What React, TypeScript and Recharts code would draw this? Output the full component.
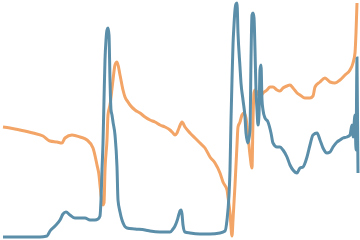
import { LineChart, Line, XAxis, YAxis } from "recharts";

// [position, level] pairs
const blueSeries: [number, number][] = [
  [3, 3], [10, 3], [20, 3], [30, 3], [40, 3], [47, 4], [50, 9], [55, 14], [60, 20], [63, 26],
  [66, 28], [70, 25], [75, 22], [80, 22], [85, 22], [90, 20], [95, 20], [98, 21], [100, 24],
  [101, 40], [102, 70], [103, 97], [104, 140], [105, 180], [106, 200], [107, 210], [108, 212],
  [109, 205], [110, 160], [111, 130], [112, 125], [113, 118], [115, 105], [117, 73], [118, 40],
  [120, 28], [122, 20], [127, 12], [135, 11], [145, 10], [150, 9], [160, 8], [170, 8], [173, 11],
  [175, 14], [177, 19], [179, 26], [180, 29], [181, 30], [182, 26], [183, 15], [185, 8], [190, 7],
  [200, 6], [210, 6], [220, 7], [225, 9], [227, 20], [229, 45], [230, 70], [231, 120], [232, 160],
  [233, 195], [234, 215], [235, 230], [236, 236], [237, 237], [238, 207], [240, 173], [241, 157],
  [243, 140], [245, 123], [246, 107], [248, 97], [250, 110], [251, 180], [252, 225], [253, 227],
  [254, 222], [255, 190], [256, 150], [257, 130], [258, 115], [259, 125], [260, 170], [261, 175],
  [262, 140], [263, 130], [265, 122], [268, 118], [271, 107], [273, 97], [277, 93], [280, 93],
  [283, 90], [287, 83], [290, 75], [293, 70], [297, 67], [300, 72], [303, 73], [307, 83],
  [310, 95], [313, 105], [317, 107], [320, 100], [323, 92], [327, 87], [330, 88], [333, 93],
  [337, 98], [340, 100], [343, 102], [347, 103], [350, 105], [352, 115], [353, 103], [355, 125],
  [356, 90], [357, 182], [358, 67],
];

const orangeSeries: [number, number][] = [
  [3, 113], [10, 112], [20, 110], [33, 107], [43, 104], [50, 99], [57, 98], [62, 97],
  [65, 102], [72, 105], [80, 103], [87, 100], [93, 92], [97, 75],
  [99, 65], [100, 55], [101, 45], [103, 35], [104, 37], [105, 70], [107, 100], [108, 125],
  [110, 135], [113, 160], [115, 175], [117, 178], [120, 165], [123, 150], [125, 143], [128, 138],
  [130, 135], [135, 130], [140, 127], [145, 123], [150, 120], [155, 118], [160, 115], [165, 113],
  [170, 110], [173, 107], [175, 105], [177, 107], [179, 112], [182, 118], [185, 113], [190, 107],
  [195, 102], [200, 97], [205, 92], [210, 83], [215, 77], [220, 67], [223, 58], [227, 50],
  [228, 43], [230, 27], [232, 4], [233, 20], [235, 55], [237, 95], [238, 113], [240, 118],
  [242, 125], [244, 127], [246, 122], [248, 105], [250, 85], [252, 72], [253, 120], [254, 147],
  [255, 150], [257, 148], [260, 143], [263, 147], [267, 150], [270, 153], [273, 153], [277, 150],
  [280, 149], [283, 152], [287, 154], [290, 155], [293, 152], [297, 147], [300, 145], [305, 142],
  [310, 142], [313, 144], [315, 153], [320, 158], [325, 162], [330, 158], [335, 157], [340, 160],
  [345, 165], [350, 170], [353, 177], [355, 187], [356, 207], [357, 237],
];

const toRows = (pairs: [number, number][]) => pairs.map(([x, v]) => ({ x, v }));

export default function App() {
  return (
    <div style={{ position: "fixed", left: 0, top: 0, width: 360, height: 240, background: "#fff" }}>
      <LineChart width={360} height={240} margin={{ top: 0, right: 0, bottom: 0, left: 0 }}>
        <XAxis type="number" dataKey="x" domain={[0, 360]} hide />
        <YAxis type="number" domain={[0, 240]} hide />
        <Line
          data={toRows(orangeSeries)}
          dataKey="v"
          type="monotone"
          stroke="#f2a566"
          strokeWidth={3}
          dot={false}
          activeDot={false}
          isAnimationActive={false}
        />
        <Line
          data={toRows(blueSeries)}
          dataKey="v"
          type="monotone"
          stroke="#5b8ea9"
          strokeWidth={3}
          dot={false}
          activeDot={false}
          isAnimationActive={false}
        />
      </LineChart>
    </div>
  );
}
